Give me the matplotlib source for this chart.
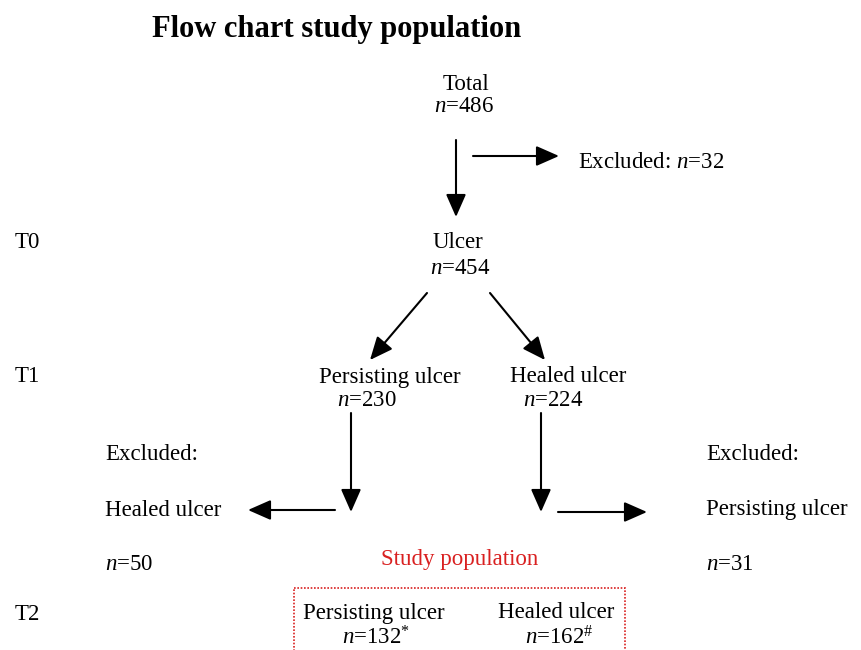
import matplotlib
matplotlib.use('Agg')
import matplotlib.pyplot as plt
from matplotlib.patches import Rectangle

plt.rcParams['font.family'] = ['Liberation Serif', 'DejaVu Serif']
plt.rcParams['mathtext.fontset'] = 'custom'
plt.rcParams['mathtext.rm'] = 'Liberation Serif'
plt.rcParams['mathtext.it'] = 'Liberation Serif:italic'

# flow chart data
title = 'Flow chart study population'
time_points = ['T0', 'T1', 'T2']
total_n = 486
excluded_start = 32
ulcer_n = 454
t1_labels = ['Persisting ulcer', 'Healed ulcer']
t1_n = [230, 224]
excluded_labels = ['Healed ulcer', 'Persisting ulcer']
excluded_n = [50, 31]
study_labels = ['Persisting ulcer', 'Healed ulcer']
study_n = [132, 162]
study_marks = ['*', '#']

fs = 16.5
dy = 2  # small vertical nudge for text
fig = plt.figure(figsize=(8.62, 6.5), dpi=100)
ax = fig.add_axes([0, 0, 1, 1])
ax.set_xlim(0, 862)
ax.set_ylim(650, 0)
ax.axis('off')


def nlab(v, mark=''):
    s = r'$n$=' + str(v)
    if mark:
        s += r'$^{\mathrm{' + ('\\' + mark if mark == '#' else mark) + '}}$'
    return s


def txt(x, y, s, ha='center', **kw):
    ax.text(x, y + dy, s, fontsize=fs, ha=ha, va='center', **kw)


def arrow(x0, y0, x1, y1):
    ax.annotate('', xy=(x1, y1), xytext=(x0, y0),
                arrowprops=dict(arrowstyle='-|>,head_length=0.5,head_width=0.22',
                                color='black', lw=1.5,
                                mutation_scale=28, shrinkA=0, shrinkB=0))


ax.text(337, 29, title, fontsize=22, fontweight='bold', ha='center', va='center')

# top
txt(466, 82, 'Total')
txt(464, 104, nlab(total_n))
arrow(456, 140, 456, 217)
arrow(473, 156, 559, 156)
txt(578, 160, 'Excluded: ' + nlab(excluded_start), ha='left')

# time points
for lab, y in zip(time_points, [241, 375, 612]):
    txt(15, y, lab, ha='left')

txt(458, 241, 'Ulcer')
txt(460, 267, nlab(ulcer_n))
arrow(427, 293, 370, 360)
arrow(490, 293, 545, 360)

# T1
txt(390, 375, t1_labels[0])
txt(337, 399, nlab(t1_n[0]), ha='left')
txt(568, 375, t1_labels[1])
txt(523, 399, nlab(t1_n[1]), ha='left')
arrow(351, 413, 351, 512)
arrow(541, 413, 541, 512)
arrow(335, 510, 248, 510)
arrow(558, 512, 647, 512)

# excluded at T1
for x, lab, v in zip([105, 706], excluded_labels, excluded_n):
    txt(x, 453, 'Excluded:', ha='left')
    txt(x, 508, lab, ha='left')
    txt(x, 562, nlab(v), ha='left')

# study population
txt(460, 558, 'Study population', color='#d92020')
ax.add_patch(Rectangle((294, 588), 331, 80, fill=False, edgecolor='#d92020',
                       lw=1.2, linestyle=(0, (1, 1))))
txt(374, 611, study_labels[0])
txt(342, 636, nlab(study_n[0], study_marks[0]), ha='left')
txt(556, 611, study_labels[1])
txt(525, 636, nlab(study_n[1], study_marks[1]), ha='left')

fig.savefig('out.png', dpi=100)
